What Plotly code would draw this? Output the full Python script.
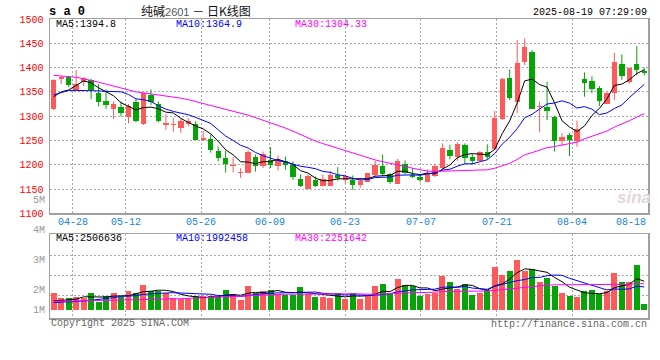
import pandas as pd
import numpy as np
import plotly.graph_objects as go

# ---------------- data ----------------
dates = pd.bdate_range("2025-04-23", "2025-08-18", freq="C",
                       holidays=["2025-05-01", "2025-05-02", "2025-05-05", "2025-06-02"])
day_labels = [d.strftime("%m-%d") for d in dates]

opens = [1315, 1376, 1380, 1354, 1371, 1375, 1347, 1331, 1315, 1318,
         1299, 1330, 1284, 1343, 1325, 1282, 1281, 1275, 1284, 1284,
         1250, 1253, 1229, 1214, 1198, 1184, 1184, 1215, 1198, 1209,
         1197, 1207, 1200, 1171, 1151, 1168, 1156, 1156, 1178, 1169,
         1169, 1158, 1165, 1178, 1197, 1180, 1161, 1202, 1178, 1174,
         1165, 1176, 1193, 1230, 1215, 1241, 1215, 1208, 1226, 1232,
         1295, 1379, 1330, 1412, 1432, 1318, 1319, 1298, 1248, 1261,
         1248, 1377, 1372, 1358, 1326, 1347, 1408, 1371, 1407, 1392]
highs = [1376, 1383, 1382, 1395, 1380, 1377, 1366, 1355, 1330, 1330,
         1325, 1336, 1348, 1355, 1330, 1304, 1296, 1294, 1296, 1290,
         1270, 1262, 1238, 1229, 1215, 1193, 1230, 1221, 1227, 1236,
         1219, 1217, 1207, 1180, 1180, 1176, 1180, 1187, 1195, 1180,
         1178, 1173, 1183, 1208, 1221, 1183, 1212, 1209, 1193, 1180,
         1190, 1202, 1244, 1241, 1246, 1244, 1222, 1228, 1242, 1311,
         1379, 1396, 1457, 1460, 1436, 1330, 1371, 1301, 1265, 1265,
         1291, 1390, 1382, 1362, 1350, 1430, 1427, 1400, 1444, 1400]
lows = [1312, 1366, 1360, 1352, 1362, 1335, 1320, 1315, 1294, 1299,
        1285, 1287, 1282, 1323, 1287, 1272, 1268, 1266, 1279, 1251,
        1249, 1225, 1207, 1184, 1184, 1173, 1184, 1186, 1193, 1193,
        1188, 1190, 1169, 1154, 1150, 1154, 1156, 1156, 1167, 1161,
        1148, 1152, 1164, 1176, 1176, 1161, 1161, 1180, 1173, 1164,
        1165, 1175, 1191, 1211, 1208, 1201, 1200, 1207, 1211, 1230,
        1292, 1333, 1306, 1405, 1315, 1267, 1292, 1227, 1239, 1218,
        1237, 1340, 1347, 1321, 1325, 1333, 1375, 1367, 1384, 1384]
closes = [1374, 1381, 1364, 1366, 1378, 1354, 1330, 1323, 1325, 1306,
          1320, 1290, 1347, 1330, 1289, 1285, 1282, 1291, 1289, 1251,
          1256, 1231, 1214, 1202, 1199, 1185, 1227, 1198, 1222, 1200,
          1209, 1200, 1174, 1156, 1176, 1157, 1171, 1178, 1173, 1176,
          1159, 1166, 1182, 1199, 1180, 1164, 1207, 1184, 1174, 1169,
          1180, 1198, 1234, 1217, 1243, 1213, 1207, 1226, 1215, 1297,
          1376, 1338, 1410, 1442, 1315, 1320, 1311, 1248, 1258, 1251,
          1273, 1369, 1356, 1331, 1348, 1412, 1383, 1400, 1395, 1388]
# volume in millions of lots
volumes_m = [1.52, 1.04, 1.04, 1.13, 1.03, 1.52, 0.75, 1.24, 1.52, 1.13,
             1.61, 1.52, 2.18, 1.69, 1.61, 1.52, 1.04, 0.99, 0.99, 1.24,
             1.18, 1.24, 1.13, 1.75, 1.41, 0.89, 2.10, 1.52, 1.69, 1.75,
             1.41, 1.33, 1.33, 1.96, 1.41, 1.10, 1.10, 1.02, 1.52, 0.99,
             1.52, 0.99, 1.24, 2.10, 2.27, 1.41, 2.69, 2.18, 2.10, 1.18,
             1.41, 1.47, 2.90, 2.43, 1.80, 2.27, 1.27, 1.47, 1.75, 3.74,
             3.04, 3.32, 4.26, 3.32, 3.54, 2.38, 2.74, 2.04, 1.52, 1.18,
             1.10, 1.66, 1.75, 1.41, 1.61, 3.23, 2.43, 2.38, 3.84, 0.55]

# moving-average values before enough candles are on screen
ma5_head = [1340, 1350, 1354, 1364]
ma10_head = [1344, 1349, 1353, 1353, 1353, 1353, 1352, 1351, 1351]
ma30_head = [1384, 1383, 1382, 1380, 1377, 1374, 1370, 1366, 1362, 1358,
             1354, 1350, 1348, 1346, 1344, 1342, 1340, 1337, 1334, 1330,
             1326, 1322, 1318, 1315, 1311, 1307, 1302, 1297, 1292]
vma5_head = [0.80, 0.84, 0.88, 0.95]
vma10_head = [0.66, 0.68, 0.70, 0.74, 0.80, 0.86, 0.92, 1.00, 1.08]
vma30_head = [0.76, 0.77, 0.77, 0.78, 0.79, 0.80, 0.82, 0.83, 0.84, 0.86,
              0.87, 0.88, 0.90, 0.92, 0.93, 0.95, 0.97, 0.99, 1.01, 1.03,
              1.06, 1.08, 1.11, 1.14, 1.17, 1.20, 1.24, 1.28, 1.31]

tick_dates = ["04-28", "05-12", "05-26", "06-09", "06-23", "07-07", "07-21", "08-04", "08-18"]
price_ticks = [1100, 1150, 1200, 1250, 1300, 1350, 1400, 1450, 1500]
vol_tick_labels = ["5M", "4M", "3M", "2M", "1M"]

title_name = "纯碱"
title_code = "2601"
title_rest = " － 日K线图"
symbol_text = "s a 0"
stamp_text = "2025-08-19 07:29:09"
price_ma_texts = ["MA5:1394.8", "MA10:1364.9", "MA30:1304.33"]
vol_ma_texts = ["MA5:2506636", "MA10:1992458", "MA30:2251642"]
copyright_text = "Copyright 2025 SINA.COM"
url_text = "http://finance.sina.com.cn"

# ---------------- derived ----------------
N = len(closes)
idx = np.arange(N)
volumes = [v * 1e6 for v in volumes_m]


def moving(vals, n, head):
    s = pd.Series(vals, dtype=float).rolling(n).mean().to_numpy()
    s[:n - 1] = head
    return s


ma5 = moving(closes, 5, ma5_head)
ma10 = moving(closes, 10, ma10_head)
ma30 = moving(closes, 30, ma30_head)
vma5 = moving(volumes, 5, [v * 1e6 for v in vma5_head])
vma10 = moving(volumes, 10, [v * 1e6 for v in vma10_head])
vma30 = moving(volumes, 30, [v * 1e6 for v in vma30_head])

RED = "#ff5a5a"
GREEN = "#06a406"
up = [c >= o for o, c in zip(opens, closes)]
colors = [RED if u else GREEN for u in up]

# Sina places date grid lines at i*N/(N-1) slots
tick_idx = [day_labels.index(t) for t in tick_dates]
grid_x = [i * N / (N - 1) - 0.5 for i in tick_idx]

W, H = 660, 360
ML, MR, MT, MB = 50, 10, 19, 42


def px(x):
    return (x - ML) / (W - ML - MR)


def py(y):
    return (H - MB - y) / (H - MT - MB)


fig = go.Figure()

# wicks
for flag, col in ((True, RED), (False, GREEN)):
    xs, ys = [], []
    for i in range(N):
        if up[i] == flag:
            xs += [i, i, None]
            ys += [lows[i], highs[i], None]
    fig.add_trace(go.Scatter(x=xs, y=ys, mode="lines", line=dict(color=col, width=1),
                             xaxis="x", yaxis="y", hoverinfo="skip"))

# bodies
fig.add_trace(go.Bar(x=idx, base=[min(o, c) for o, c in zip(opens, closes)],
                     y=[max(abs(c - o), 2.0) for o, c in zip(opens, closes)],
                     width=0.72, marker=dict(color=colors, line=dict(width=0)),
                     xaxis="x", yaxis="y", hoverinfo="skip"))

for series, col in ((ma5, "#000000"), (ma10, "#0000ff"), (ma30, "#ff00ff")):
    fig.add_trace(go.Scatter(x=idx, y=series, mode="lines", line=dict(color=col, width=1),
                             xaxis="x", yaxis="y", hoverinfo="skip"))

# volume
fig.add_trace(go.Bar(x=idx, y=volumes, width=0.8, marker=dict(color=colors, line=dict(width=0)),
                     xaxis="x2", yaxis="y2", hoverinfo="skip"))
for series, col in ((vma5, "#000000"), (vma10, "#0000ff"), (vma30, "#ff00ff")):
    fig.add_trace(go.Scatter(x=idx, y=series, mode="lines", line=dict(color=col, width=1),
                             xaxis="x2", yaxis="y2", hoverinfo="skip"))

GRID = "#aaaaaa"
FRAME = "#a0a0a0"
MONO = "Liberation Mono"
main_dom = [py(213.3), 1]
vol_dom = [0, py(234.3)]
vol_lo = -(318 - 310.3) / 11.7 * 1e6
vol_hi = (310.3 - 234.3) / 11.7 * 1e6
vol_grid = [(310.3 - y) / 11.7 * 1e6 for y in (295.7, 275.7, 255.7)]

axis_common = dict(showline=True, linecolor=FRAME, linewidth=1.5, mirror=True,
                   zeroline=False, gridcolor=GRID, griddash="2px,2px", gridwidth=1)

fig.update_layout(
    width=W, height=H, margin=dict(l=ML, r=MR, t=MT, b=MB),
    paper_bgcolor="white", plot_bgcolor="white", showlegend=False, hovermode=False,
    bargap=0,
    xaxis=dict(domain=[0, 1], range=[-0.5, N - 0.5], anchor="y", tickmode="array",
               tickvals=grid_x, showticklabels=False, ticks="", **axis_common),
    yaxis=dict(domain=main_dom, range=[1100, 1500], anchor="x", tickmode="array",
               tickvals=price_ticks, ticktext=[str(t) for t in price_ticks],
               tickfont=dict(family=MONO, size=10, color="#ff0000"), ticks="",
               ticklabelstandoff=3, **axis_common),
    xaxis2=dict(domain=[0, 1], range=[-0.5, N - 0.5], anchor="y2", matches="x", tickmode="array",
                tickvals=grid_x, showticklabels=False, ticks="", **axis_common),
    yaxis2=dict(domain=vol_dom, range=[vol_lo, vol_hi], anchor="x2", tickmode="array",
                tickvals=vol_grid, showticklabels=False, ticks="", **axis_common),
)

ann = []


def text(t, x, y, color="#000", size=10, anchor="left", family=MONO, xref="paper", **kw):
    ann.append(dict(text=t, x=x if xref != "paper" else px(x), y=py(y), xref=xref, yref="paper",
                    xanchor=anchor, yanchor="middle", showarrow=False,
                    font=dict(family=family, size=size, color=color), **kw))


text("<b>" + symbol_text + "</b>", 47, 12, size=12, color="#000")
text(title_name + '<span style="font-family:Liberation Sans;font-size:11px;color:#555">'
     + title_code + "</span>" + title_rest, 139, 10.5, size=12, color="#111",
     family="Noto Sans CJK SC")
text(stamp_text, 651, 12, anchor="right")

for t, x, c in zip(price_ma_texts, (54, 174, 294), ("#000000", "#0000ff", "#ff00ff")):
    text(t, x, 24.5, color=c)
for t, x, c in zip(vol_ma_texts, (54, 174, 294), ("#000000", "#0000ff", "#ff00ff")):
    text(t, x, 238.5, color=c)

for t, y in zip(vol_tick_labels, (200.7, 230.3, 260.3, 290.3, 310.3)):
    text(t, 47, y, color="#999999", anchor="right")

for k, (lab, gx) in enumerate(zip(tick_dates, grid_x)):
    last = k == len(tick_dates) - 1
    text(lab, gx, 222, color="#1a84d4", anchor="right" if last else "center", xref="x")

text(copyright_text, 49, 323.5, color="#666666")
text(url_text, 651, 324, color="#666666", anchor="right")
text("<b><i>sina</i></b>", 636, 197, color="#e2d6d6", size=17, anchor="center",
     family="Liberation Sans")

fig.update_layout(annotations=ann)
fig.write_html("out.html", config={"displayModeBar": False, "staticPlot": True},
               post_script="document.body.style.margin='0';document.body.style.padding='0';")
